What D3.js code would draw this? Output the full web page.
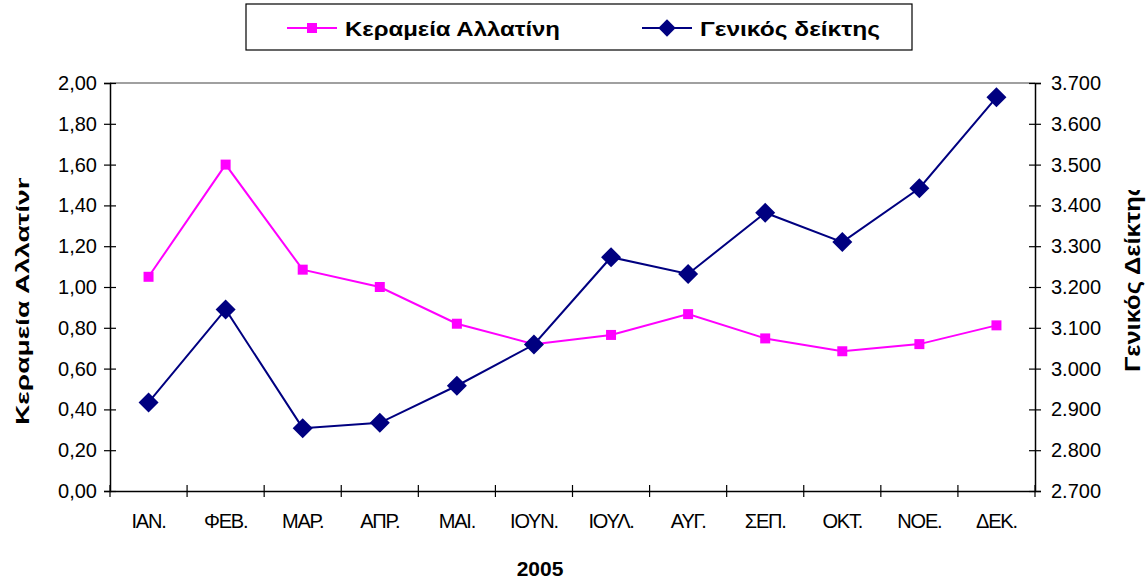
<!DOCTYPE html>
<html lang="el">
<head>
<meta charset="utf-8">
<title>Κεραμεία Αλλατίνη - Γενικός δείκτης 2005</title>
<style>
  html, body {margin: 0; padding: 0; background: #fff;}
  svg {display: block; font-family: Arial, "Liberation Sans", sans-serif;}
  .tick text {font-size: 20px; fill: #000;}
  .domain {stroke: #000; stroke-width: 1.5px;}
  .tick line {stroke: #000; stroke-width: 1.2px;}
</style>
</head>
<body>
<svg id="chart" width="1148" height="580"></svg>
<script src="https://cdnjs.cloudflare.com/ajax/libs/d3/7.8.5/d3.min.js"></script>
<script>
  // data
  var months = ['ΙΑΝ.', 'ΦΕΒ.', 'ΜΑΡ.', 'ΑΠΡ.', 'ΜΑΙ.', 'ΙΟΥΝ.', 'ΙΟΥΛ.', 'ΑΥΓ.', 'ΣΕΠ.', 'ΟΚΤ.', 'ΝΟΕ.', 'ΔΕΚ.'];
  var allatini = [1.05, 1.60, 1.085, 1.00, 0.82, 0.72, 0.765, 0.867, 0.748, 0.685, 0.72, 0.812];
  var geniko = [2917, 3145, 2854, 2867, 2958, 3059, 3273, 3232, 3382, 3310, 3442, 3665];
  var leftTicks = [0, 0.2, 0.4, 0.6, 0.8, 1.0, 1.2, 1.4, 1.6, 1.8, 2.0];
  var rightTicks = [2700, 2800, 2900, 3000, 3100, 3200, 3300, 3400, 3500, 3600, 3700];
  var seriesNames = ['Κεραμεία Αλλατίνη', 'Γενικός δείκτης'];
  var titles = ['Κεραμεία Αλλατίνη', 'Γενικός Δείκτης', '2005'];

  var pink = '#ff00ff', navy = '#000080';
  var plotL = 110, plotR = 1035, plotT = 83, plotB = 491;

  var gr = d3.formatLocale({decimal: ',', thousands: '.', grouping: [3], currency: ['', '€']});

  var svg = d3.select('#chart');

  var x = d3.scaleBand().domain(months).range([plotL, plotR]).padding(0);
  var yL = d3.scaleLinear().domain([0, 2]).range([plotB, plotT]);
  var yR = d3.scaleLinear().domain([2700, 3700]).range([plotB, plotT]);
  var cx = function (d, i) { return x(months[i]) + x.bandwidth() / 2; };

  // top border of plot area (grey)
  svg.append('line')
    .attr('x1', plotL).attr('x2', plotR)
    .attr('y1', yL(2)).attr('y2', yL(2))
    .attr('stroke', '#808080').attr('stroke-width', 1.5);

  // left axis
  var gL = svg.append('g').attr('transform', 'translate(' + plotL + ',0)')
    .call(d3.axisLeft(yL).tickValues(leftTicks).tickFormat(gr.format(',.2f')).tickSize(6).tickPadding(7));
  gL.selectAll('.tick line').attr('x1', 6);

  // right axis
  var gR = svg.append('g').attr('transform', 'translate(' + plotR + ',0)')
    .call(d3.axisRight(yR).tickValues(rightTicks).tickFormat(gr.format(',')).tickSize(6).tickPadding(10));
  gR.selectAll('.tick line').attr('x1', -6);

  // bottom axis, labels centered in each month
  var gB = svg.append('g').attr('transform', 'translate(0,' + plotB + ')')
    .call(d3.axisBottom(x).tickSize(0).tickPadding(23));
  gB.selectAll('.tick text').style('letter-spacing', '-1.2px');
  // tick marks on month boundaries
  var bounds = months.map(function (m) { return x(m); }).concat([x.range()[1]]);
  gB.selectAll('line.bound').data(bounds).enter().append('line')
    .attr('class', 'bound')
    .attr('x1', function (d) { return d; }).attr('x2', function (d) { return d; })
    .attr('y1', -6).attr('y2', 6)
    .attr('stroke', '#000').attr('stroke-width', 1.2);

  // lines
  var lineL = d3.line().x(cx).y(function (d) { return yL(d); });
  var lineR = d3.line().x(cx).y(function (d) { return yR(d); });

  svg.append('path').datum(allatini)
    .attr('d', lineL).attr('fill', 'none').attr('stroke', pink).attr('stroke-width', 2);
  svg.append('path').datum(geniko)
    .attr('d', lineR).attr('fill', 'none').attr('stroke', navy).attr('stroke-width', 2);

  var square = d3.symbol().type(d3.symbolSquare).size(100);
  var diamond = d3.symbol().type(d3.symbolSquare).size(200);

  svg.append('g').selectAll('path').data(allatini).enter().append('path')
    .attr('d', square)
    .attr('transform', function (d, i) { return 'translate(' + cx(d, i) + ',' + yL(d) + ')'; })
    .attr('fill', pink);

  svg.append('g').selectAll('path').data(geniko).enter().append('path')
    .attr('d', diamond)
    .attr('transform', function (d, i) { return 'translate(' + cx(d, i) + ',' + yR(d) + ') rotate(45)'; })
    .attr('fill', navy);

  // axis titles (clipped at the top like the original)
  svg.append('clipPath').attr('id', 'clipL')
    .append('rect').attr('x', 0).attr('y', 178).attr('width', 60).attr('height', 400);
  svg.append('clipPath').attr('id', 'clipR')
    .append('rect').attr('x', 1100).attr('y', 190).attr('width', 60).attr('height', 400);

  svg.append('g').attr('clip-path', 'url(#clipL)')
    .append('text')
    .attr('transform', 'translate(29,425) rotate(-90)')
    .attr('font-size', 18).attr('font-weight', 'bold')
    .attr('textLength', 253).attr('lengthAdjust', 'spacingAndGlyphs')
    .text(titles[0]);

  svg.append('g').attr('clip-path', 'url(#clipR)')
    .append('text')
    .attr('transform', 'translate(1140,372) rotate(-90)')
    .attr('font-size', 22).attr('font-weight', 'bold')
    .attr('textLength', 189).attr('lengthAdjust', 'spacingAndGlyphs')
    .text(titles[1]);

  svg.append('text')
    .attr('x', 540).attr('y', 576)
    .attr('text-anchor', 'middle')
    .attr('font-size', 21).attr('font-weight', 'bold')
    .text(titles[2]);

  // legend
  var legend = svg.append('g');
  legend.append('rect')
    .attr('x', 246).attr('y', 4).attr('width', 666).attr('height', 46)
    .attr('fill', '#fff').attr('stroke', '#000').attr('stroke-width', 1.2);

  var items = [
    {name: seriesNames[0], color: pink, sym: square, rot: 0, x: 287, len: 215},
    {name: seriesNames[1], color: navy, sym: d3.symbol().type(d3.symbolSquare).size(150), rot: 45, x: 642, len: 180}
  ];
  var li = legend.selectAll('g.item').data(items).enter().append('g')
    .attr('class', 'item')
    .attr('transform', function (d) { return 'translate(' + d.x + ',28)'; });
  li.append('line').attr('x1', 0).attr('x2', 50)
    .attr('stroke', function (d) { return d.color; }).attr('stroke-width', 2);
  li.append('path')
    .attr('d', function (d) { return d.sym(); })
    .attr('transform', function (d) { return 'translate(25,0) rotate(' + d.rot + ')'; })
    .attr('fill', function (d) { return d.color; });
  li.append('text')
    .attr('x', 58).attr('y', 8)
    .attr('font-size', 21).attr('font-weight', 'bold')
    .attr('textLength', function (d) { return d.len; }).attr('lengthAdjust', 'spacingAndGlyphs')
    .text(function (d) { return d.name; });
</script>
</body>
</html>
